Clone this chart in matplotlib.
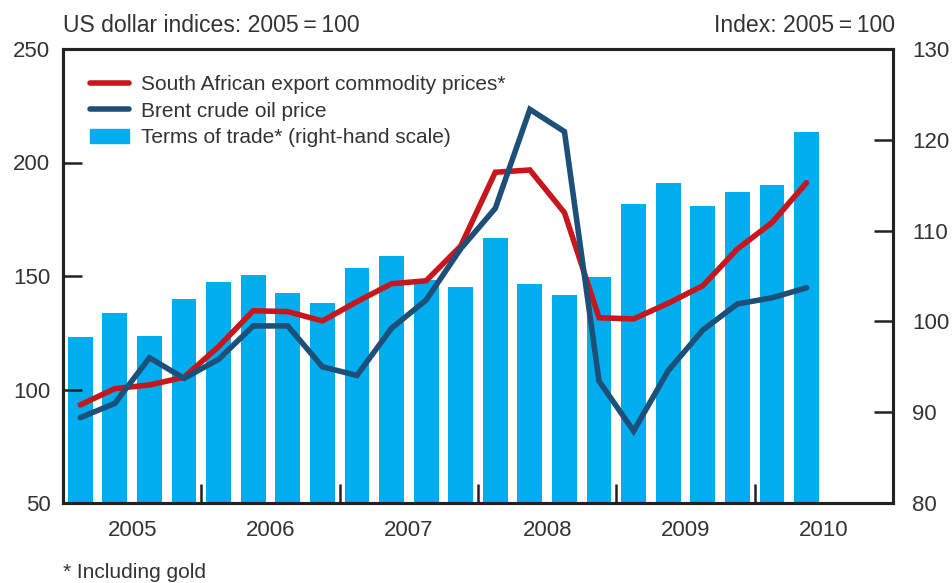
import matplotlib
matplotlib.use("Agg")
import matplotlib.pyplot as plt
import numpy as np

plt.rcParams['font.family'] = ['Liberation Sans', 'DejaVu Sans']

quarters = [2005 + (i + 0.5) / 4 for i in range(22)]
year_labels = ['2005', '2006', '2007', '2008', '2009', '2010']

sa_export = [93.2, 100.4, 102.0, 105.4, 118.9, 134.7, 134.3, 130.2, 138.7, 146.6, 147.9,
             163.2, 195.7, 196.7, 177.9, 131.6, 131.1, 138.0, 145.7, 161.9, 173.5, 191.1]
brent = [87.6, 93.9, 114.0, 104.9, 113.3, 128.0, 128.0, 110.0, 106.2, 127.0, 139.4,
         162.0, 179.8, 223.4, 213.6, 103.7, 81.7, 108.3, 126.2, 137.7, 140.4, 144.8]
terms_of_trade = [98.3, 100.9, 98.4, 102.5, 104.3, 105.1, 103.1, 102.0, 105.9, 107.2, 104.6,
                  103.8, 109.2, 104.1, 102.9, 104.9, 112.9, 115.2, 112.7, 114.3, 115.0, 120.9]

RED = '#c8161d'
NAVY = '#1c5078'
CYAN = '#00aeef'
TXT = '#333333'

fig = plt.figure(figsize=(9.53, 5.83), dpi=100)
ax = fig.add_axes([63/953, 1-503/583, (893-63)/953, (503-49)/583])
ax2 = ax.twinx()

ax2.bar(quarters, terms_of_trade, width=0.18, color=CYAN, zorder=1)
ax2.set_ylim(80, 130)
ax2.set_yticks([80, 90, 100, 110, 120, 130])

ax.set_zorder(ax2.get_zorder() + 1)
ax.patch.set_visible(False)
l1, = ax.plot(quarters, sa_export, color=RED, lw=4.0, solid_capstyle='round', solid_joinstyle='miter')
l2, = ax.plot(quarters, brent, color=NAVY, lw=4.0, solid_capstyle='round', solid_joinstyle='miter')
ax.set_ylim(50, 250)
ax.set_yticks([50, 100, 150, 200, 250])
ax.set_xlim(2005, 2011)
ax.set_xticks([2006, 2007, 2008, 2009, 2010])
ax.set_xticklabels([])
ax.set_xticks([y + 0.5 for y in range(2005, 2011)], minor=True)
ax.set_xticklabels(year_labels, minor=True)
ax.tick_params(axis='x', which='minor', length=0, pad=12, labelsize=16, labelcolor=TXT)
ax.tick_params(axis='x', which='major', direction='in', length=14, width=1.8, color='#222222')
ax.tick_params(axis='y', direction='in', length=14, width=1.8, color='#222222', labelsize=16,
               labelcolor=TXT, pad=9)
ax2.tick_params(axis='y', direction='in', length=14, width=1.8, color='#222222', labelsize=16,
                labelcolor=TXT, pad=14)
for a in (ax, ax2):
    for sp in a.spines.values():
        sp.set_linewidth(2.2)
        sp.set_color('#222222')

bar_handle = plt.Rectangle((0, 0), 1, 1, color=CYAN)
leg = ax.legend([l1, l2, bar_handle],
                ['South African export commodity prices*', 'Brent crude oil price',
                 'Terms of trade* (right-hand scale)'],
                loc='upper left', bbox_to_anchor=(0.018, 0.97), frameon=False, fontsize=15,
                handlelength=1.85, handletextpad=0.6, labelspacing=0.36, borderaxespad=0.2)
for t in leg.get_texts():
    t.set_color(TXT)

fig.text(63/953, 1-26/583, 'US dollar indices: 2005\u2009=\u2009100', fontsize=16.6, color=TXT,
         ha='left', va='center')
fig.text(895/953, 1-26/583, 'Index: 2005\u2009=\u2009100', fontsize=16.6, color=TXT,
         ha='right', va='center')
fig.text(63/953, 1-573/583, '* Including gold', fontsize=15, color=TXT, ha='left', va='center')

fig.savefig('out.png', dpi=100)
